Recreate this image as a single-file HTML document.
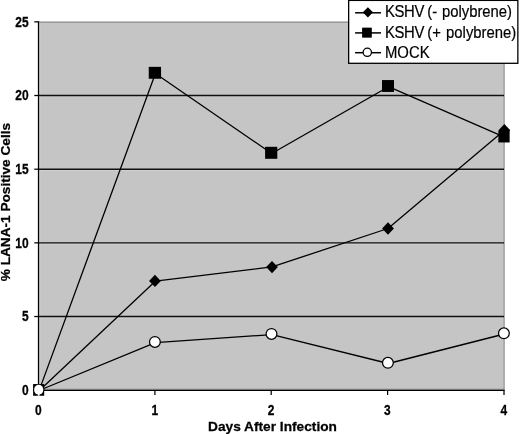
<!DOCTYPE html><html><head><meta charset="utf-8"><title>chart</title><style>html,body{margin:0;padding:0;background:#fff}svg{display:block}text{font-family:"Liberation Sans",Arial,sans-serif;fill:#000}.b{font-weight:bold;font-size:13px;stroke:#000;stroke-width:0.25px}.l{font-size:16.3px;stroke:#000;stroke-width:0.2px}</style></head><body>
<svg width="520" height="434" viewBox="0 0 520 434">
<rect width="520" height="434" fill="#fff"/>
<rect x="38.5" y="21.95" width="465.5" height="368.35" fill="#c5c5c5"/>
<path d="M38.5 22.099999999999998H504.1" fill="none" stroke="#8a8a8a" stroke-width="1.3"/>
<path d="M504.15 21.45V390.3" fill="none" stroke="#8c8c8c" stroke-width="1.1"/>
<line x1="38.5" x2="504.0" y1="389.2" y2="389.2" stroke="#8c8c8c" stroke-width="1"/>
<line x1="39.5" x2="503.0" y1="317.88" y2="317.88" stroke="#d4d4d4" stroke-width="0.7"/>
<line x1="39.5" x2="503.0" y1="244.21" y2="244.21" stroke="#d4d4d4" stroke-width="0.7"/>
<line x1="39.5" x2="503.0" y1="170.54" y2="170.54" stroke="#d4d4d4" stroke-width="0.7"/>
<line x1="39.5" x2="503.0" y1="96.87" y2="96.87" stroke="#d4d4d4" stroke-width="0.7"/>
<line x1="39.85" x2="39.85" y1="22.95" y2="388.3" stroke="#d2d2d2" stroke-width="0.7"/>
<line x1="38.5" x2="504.0" y1="316.53" y2="316.53" stroke="#101010" stroke-width="1.45"/>
<line x1="38.5" x2="504.0" y1="242.86" y2="242.86" stroke="#101010" stroke-width="1.45"/>
<line x1="38.5" x2="504.0" y1="169.19" y2="169.19" stroke="#101010" stroke-width="1.45"/>
<line x1="38.5" x2="504.0" y1="95.52" y2="95.52" stroke="#101010" stroke-width="1.45"/>
<line x1="38.5" x2="38.5" y1="21.349999999999998" y2="390.90000000000003" stroke="#000" stroke-width="1.25"/>
<line x1="38.5" x2="504.6" y1="390.3" y2="390.3" stroke="#000" stroke-width="1.25"/>
<line x1="34.3" x2="38.5" y1="390.20" y2="390.20" stroke="#000" stroke-width="1.25"/>
<text class="b" transform="translate(28.6,394.9) scale(0.92,1.17)" text-anchor="end">0</text>
<line x1="34.3" x2="38.5" y1="316.53" y2="316.53" stroke="#000" stroke-width="1.25"/>
<text class="b" transform="translate(28.6,321.2) scale(0.92,1.17)" text-anchor="end">5</text>
<line x1="34.3" x2="38.5" y1="242.86" y2="242.86" stroke="#000" stroke-width="1.25"/>
<text class="b" transform="translate(28.6,247.6) scale(0.92,1.17)" text-anchor="end">10</text>
<line x1="34.3" x2="38.5" y1="169.19" y2="169.19" stroke="#000" stroke-width="1.25"/>
<text class="b" transform="translate(28.6,173.9) scale(0.92,1.17)" text-anchor="end">15</text>
<line x1="34.3" x2="38.5" y1="95.52" y2="95.52" stroke="#000" stroke-width="1.25"/>
<text class="b" transform="translate(28.6,100.2) scale(0.92,1.17)" text-anchor="end">20</text>
<line x1="34.3" x2="38.5" y1="21.85" y2="21.85" stroke="#000" stroke-width="1.25"/>
<text class="b" transform="translate(28.6,26.5) scale(0.92,1.17)" text-anchor="end">25</text>
<line x1="38.5" x2="38.5" y1="390.3" y2="395.0" stroke="#000" stroke-width="1.25"/>
<text class="b" transform="translate(38.3,415.3) scale(0.92,1.17)" text-anchor="middle">0</text>
<line x1="154.9" x2="154.9" y1="390.3" y2="395.0" stroke="#000" stroke-width="1.25"/>
<text class="b" transform="translate(154.7,415.3) scale(0.92,1.17)" text-anchor="middle">1</text>
<line x1="271.2" x2="271.2" y1="390.3" y2="395.0" stroke="#000" stroke-width="1.25"/>
<text class="b" transform="translate(271.1,415.3) scale(0.92,1.17)" text-anchor="middle">2</text>
<line x1="387.6" x2="387.6" y1="390.3" y2="395.0" stroke="#000" stroke-width="1.25"/>
<text class="b" transform="translate(387.4,415.3) scale(0.92,1.17)" text-anchor="middle">3</text>
<line x1="504.0" x2="504.0" y1="390.3" y2="395.0" stroke="#000" stroke-width="1.25"/>
<text class="b" transform="translate(503.8,415.3) scale(0.92,1.17)" text-anchor="middle">4</text>
<text class="b" transform="translate(272.5,430.6) scale(1.055,1.02)" text-anchor="middle">Days After Infection</text>
<text class="b" transform="translate(10.2,202.1) rotate(-90) scale(1.05,1)" text-anchor="middle">% LANA-1 Positive Cells</text>
<polyline points="39.1,390.7 155.3,281.2 272.0,266.9 388.0,228.5 504.4,130.2" fill="none" stroke="#000" stroke-width="1.3" stroke-linejoin="round"/>
<polyline points="39.1,390.6 155.4,73.5 271.7,153.5 388.5,86.7 504.5,137.2" fill="none" stroke="#000" stroke-width="1.3" stroke-linejoin="round"/>
<polyline points="39.0,390.5 155.4,342.6 272.0,334.6 388.4,363.5 504.4,334.0" fill="none" stroke="#000" stroke-width="1.3" stroke-linejoin="round"/>
<path d="M38.60 383.85L44.50 390.00L38.60 396.15L32.70 390.00Z" fill="#000"/>
<path d="M154.95 274.75L160.85 280.90L154.95 287.05L149.05 280.90Z" fill="#000"/>
<path d="M272.00 260.95L277.90 267.10L272.00 273.25L266.10 267.10Z" fill="#000"/>
<path d="M388.00 222.35L393.90 228.50L388.00 234.65L382.10 228.50Z" fill="#000"/>
<path d="M504.40 124.05L510.30 130.20L504.40 136.35L498.50 130.20Z" fill="#000"/>
<rect x="33.10" y="384.05" width="11.1" height="11.7" fill="#000"/>
<rect x="148.75" y="66.85" width="12.3" height="11.9" fill="#000"/>
<rect x="265.10" y="146.80" width="12.2" height="12.0" fill="#000"/>
<rect x="382.00" y="80.05" width="12.0" height="11.9" fill="#000"/>
<rect x="498.35" y="130.55" width="11.3" height="11.9" fill="#000"/>
<ellipse cx="38.7" cy="389.75" rx="4.6" ry="4.95" fill="#fff"/><rect x="37.9" y="394" width="1.6" height="1.9" fill="#fff"/>
<circle cx="154.9" cy="341.9" r="5.4" fill="#fff" stroke="#000" stroke-width="1.25"/>
<circle cx="271.5" cy="333.9" r="5.4" fill="#fff" stroke="#000" stroke-width="1.25"/>
<circle cx="387.9" cy="362.8" r="5.4" fill="#fff" stroke="#000" stroke-width="1.25"/>
<circle cx="503.9" cy="333.3" r="5.4" fill="#fff" stroke="#000" stroke-width="1.25"/>
<rect x="348.65" y="0.4" width="169.2" height="62.9" fill="#fff" stroke="#000" stroke-width="1.3"/>
<line x1="355.1" x2="381" y1="12.8" y2="12.8" stroke="#000" stroke-width="1.5"/>
<path d="M367.90 7.20L373.00 12.30L367.90 17.40L362.80 12.30Z" fill="#000"/>
<text class="l" transform="translate(385.0,17.3) scale(0.912,1)"><tspan letter-spacing="-0.42">KSHV</tspan> <tspan x="46.38">(-</tspan> <tspan x="62.39">polybrene)</tspan></text>
<line x1="355.1" x2="381" y1="32.9" y2="32.9" stroke="#000" stroke-width="1.5"/>
<rect x="362.10" y="27.65" width="9.7" height="10.0" fill="#000"/>
<text class="l" transform="translate(385.0,38.0) scale(0.912,1)"><tspan letter-spacing="-0.42">KSHV</tspan> <tspan x="46.38">(+</tspan> <tspan x="67.00">polybrene)</tspan></text>
<line x1="355.1" x2="381" y1="52.7" y2="52.7" stroke="#000" stroke-width="1.5"/>
<circle cx="367.3" cy="52.3" r="4.15" fill="#fff" stroke="#000" stroke-width="1.25"/>
<text class="l" transform="translate(385.0,58.2) scale(0.912,1)">MOCK</text>
</svg></body></html>
